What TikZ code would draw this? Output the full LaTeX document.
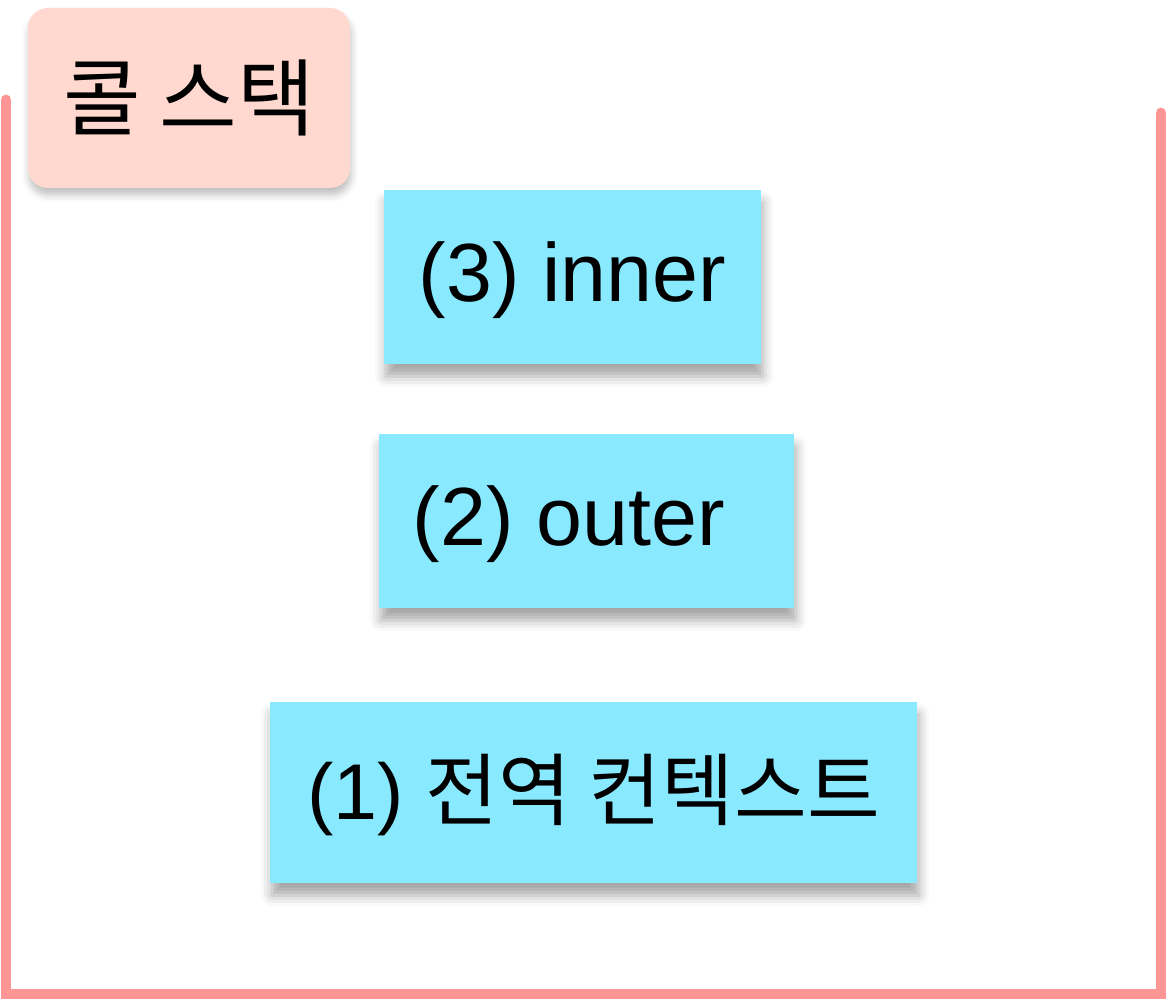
\documentclass[tikz,border=0pt]{standalone}
\usepackage{fontspec}
\setmainfont{Liberation Sans}
\newfontfamily\kr{Noto Sans CJK KR}
\usepackage{tikz}
\usetikzlibrary{shadows.blur}
\definecolor{stackred}{RGB}{255, 150, 150}
\definecolor{titlepeach}{RGB}{255, 217, 207}
\definecolor{framecyan}{RGB}{136, 233, 255}

\begin{document}
\begin{tikzpicture}[
    title/.style={rectangle, rounded corners=0.2cm, fill=titlepeach,
                  minimum width=3.22cm, minimum height=1.80cm,
                  font=\fontsize{24}{28}\selectfont,
                  blur shadow={shadow xshift=0.3pt, shadow yshift=-2pt,
                               shadow blur radius=2pt, shadow opacity=25}},
    frame/.style={rectangle, fill=framecyan, minimum height=1.74cm,
                  font=\fontsize{23.5}{28}\selectfont, text depth=0.3em,
                  blur shadow={shadow xshift=0.5pt, shadow yshift=-3.5pt,
                               shadow blur radius=3pt, shadow opacity=35}},
    wall/.style={draw=stackred, line width=3.1pt, line cap=round, line join=miter}
]
\useasboundingbox (0,0) rectangle (11.67,10);

% Stack walls
\coordinate (walltl) at (0.06,9.00);
\coordinate (wallbl) at (0.06,0.06);
\coordinate (wallbr) at (11.61,0.06);
\coordinate (walltr) at (11.61,8.87);
\draw[wall] (walltl) -- (wallbl) -- (wallbr) -- (walltr);

% Title
\node[title] (callstack) at (1.89,9.02) {{\kr 콜 스택}};

% Frames, top of stack first
\node[frame, minimum width=3.77cm] (inner)  at (5.725,7.23) {(3) inner};
\node[frame, minimum width=4.15cm] (outer)  at (5.865,4.79) {(2) outer\rule{0.35cm}{0pt}};
\node[frame, minimum width=6.47cm, minimum height=1.81cm,
      font=\fontsize{22.5}{27}\selectfont] (global) at (5.935,2.075)
    {(1) {\kr 전역 컨텍스트}};

\end{tikzpicture}
\end{document}
